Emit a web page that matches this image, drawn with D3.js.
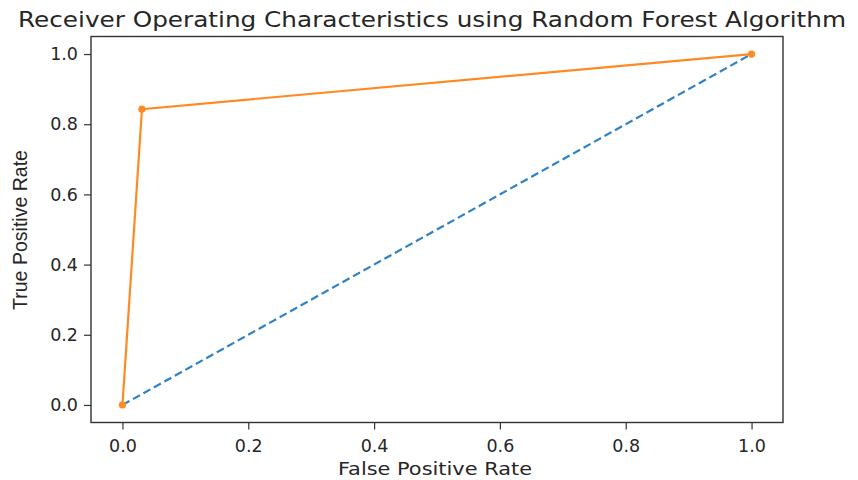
<!DOCTYPE html>
<html><head><meta charset="utf-8">
<script src="https://cdn.jsdelivr.net/npm/d3@7"></script>
<style>body{margin:0;background:#fff}</style>
</head><body>
<svg id="c" width="858" height="480"></svg>
<script>
const titleText = "Receiver Operating Characteristics using Random Forest Algorithm";
const xLabel = "False Positive Rate";
const yLabel = "True Positive Rate";
const baselineFpr = [0, 1];
const baselineTpr = [0, 1];
const rocFpr = [0, 0.031, 1];
const rocTpr = [0, 0.843, 1];
const tickValues = [0, 0.2, 0.4, 0.6, 0.8, 1.0];

const svg = d3.select("#c");
const L = 91, R = 783, T = 36.5, B = 422.5;
const x = d3.scaleLinear().domain([-0.05, 1.05]).range([L, R]);
const y = d3.scaleLinear().domain([-0.05, 1.05]).range([B, T]);
const font = "DejaVu Sans, sans-serif";

const xAxis = svg.append("g").attr("transform", `translate(0,${B})`)
  .call(d3.axisBottom(x).tickValues(tickValues).tickFormat(d3.format(".1f")).tickSize(7).tickPadding(6));
const yAxis = svg.append("g").attr("transform", `translate(${L},0)`)
  .call(d3.axisLeft(y).tickValues(tickValues).tickFormat(d3.format(".1f")).tickSize(7).tickPadding(6));
[xAxis, yAxis].forEach(a => {
  a.select(".domain").remove();
  a.selectAll("line").attr("stroke", "#333").attr("stroke-width", 1.2);
  a.selectAll("text").attr("font-family", font).attr("font-size", 17.5).attr("fill", "#262626");
});
xAxis.selectAll("text").attr("dy", "0.95em");

svg.append("rect").attr("x", L).attr("y", T).attr("width", R - L).attr("height", B - T)
  .attr("fill", "none").attr("stroke", "#333").attr("stroke-width", 1.4);

const line = d3.line().x(d => x(d[0])).y(d => y(d[1]));
svg.append("path").datum(d3.zip(baselineFpr, baselineTpr)).attr("d", line)
  .attr("fill", "none").attr("stroke", "#2f82c4").attr("stroke-width", 2.2).attr("stroke-dasharray", "8,4");
const roc = d3.zip(rocFpr, rocTpr);
svg.append("path").datum(roc).attr("d", line)
  .attr("fill", "none").attr("stroke", "#ff8a24").attr("stroke-width", 2.2);
svg.selectAll("circle.m").data(roc).enter().append("circle")
  .attr("cx", d => x(d[0])).attr("cy", d => y(d[1])).attr("r", 3.6).attr("fill", "#ff8a24");

svg.append("text").attr("x", 432).attr("y", 27).attr("text-anchor", "middle")
  .attr("font-family", font).attr("font-size", 21.5).attr("fill", "#262626")
  .attr("textLength", 828).attr("lengthAdjust", "spacingAndGlyphs").text(titleText);
svg.append("text").attr("x", 435).attr("y", 475).attr("text-anchor", "middle")
  .attr("font-family", font).attr("font-size", 18).attr("fill", "#262626")
  .attr("textLength", 194).attr("lengthAdjust", "spacingAndGlyphs").text(xLabel);
svg.append("text").attr("transform", "translate(27,230) rotate(-90)").attr("text-anchor", "middle")
  .attr("font-family", "Liberation Sans, sans-serif").attr("font-size", 20).attr("fill", "#262626")
  .attr("textLength", 160).attr("lengthAdjust", "spacingAndGlyphs").text(yLabel);
</script>
</body></html>
